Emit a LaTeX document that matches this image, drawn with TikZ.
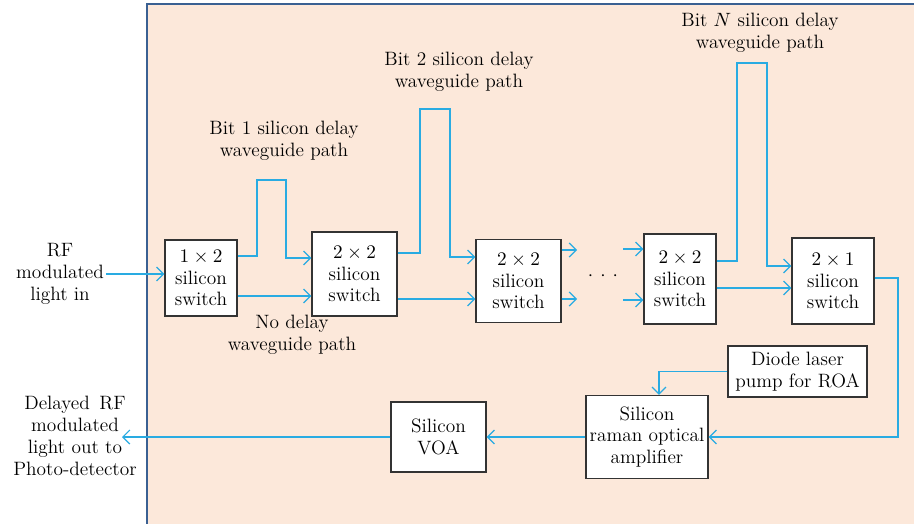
\documentclass[tikz,border=0pt]{standalone}
\usetikzlibrary{arrows.meta,calc}
\definecolor{peach}{RGB}{252,232,218}
\definecolor{framebl}{RGB}{58,96,146}
\definecolor{wg}{RGB}{41,171,226}
\begin{document}
\begin{tikzpicture}
		[x=0.02cm,y=-0.02cm,
		block/.style ={rectangle, draw=black!80, fill=white, line width=0.6pt, align=center, inner sep=1pt, font=\fontsize{11}{12.4}\selectfont},
		lbl/.style ={align=center, inner sep=0pt, font=\fontsize{11}{12.4}\selectfont},
		wire/.style ={wg, line width=0.7pt, -{Straight Barb[length=4pt,width=8pt]}},
		]
		\useasboundingbox (0,0) rectangle (914,524);
		\fill[peach] (147,4) rectangle (914,524);
		\draw[framebl, line width=0.8pt] (147,524) |- (914,4);

		% switches
		\draw (201,278) node[block, minimum width=1.44cm, minimum height=1.52cm] (S1) {$1\times 2$\\silicon\\switch};
		\draw (354.5,274) node[block, minimum width=1.7cm, minimum height=1.68cm] (S2) {$2\times 2$\\silicon\\switch};
		\draw (518.5,281) node[block, minimum width=1.7cm, minimum height=1.66cm] (S3) {$2\times 2$\\silicon\\switch};
		\draw (680,279) node[block, minimum width=1.44cm, minimum height=1.8cm] (S4) {$2\times 2$\\silicon\\switch};
		\draw (833,281) node[block, minimum width=1.64cm, minimum height=1.72cm] (S5) {$2\times 1$\\silicon\\switch};
		\draw (603,276) node[lbl] (dots) {$\cdot$\hspace{4pt}$\cdot$\hspace{4pt}$\cdot$};

		% output chain
		\draw (797.5,371.5) node[block, minimum width=2.78cm, minimum height=1.02cm] (DL) {Diode laser\\pump for ROA};
		\draw (647,437) node[block, minimum width=2.44cm, minimum height=1.66cm] (RA) {Silicon\\raman optical\\amplifier};
		\draw (438.5,437) node[block, minimum width=1.9cm, minimum height=1.4cm] (VOA) {Silicon\\VOA};

		% labels
		\draw (60,274) node[lbl] (IN) {RF\\modulated\\light in};
		\draw (75,436) node[lbl] (OUT) {Delayed\, RF\\modulated\\light out to\\Photo-detector};
		\draw (284,141) node[lbl] (T1) {Bit 1 silicon delay\\waveguide path};
		\draw (459,72) node[lbl] (T2) {Bit 2 silicon delay\\waveguide path};
		\draw (760,33) node[lbl] (TN) {Bit $N$ silicon delay\\waveguide path};
		\draw (292,335) node[lbl] (T0) {No delay\\waveguide path};

		% delay loops and free ends
		\coordinate (L1a) at (257,180);
		\coordinate (L1b) at (286,180);
		\coordinate (L2a) at (420,109);
		\coordinate (L2b) at (450,109);
		\coordinate (LNa) at (737,63);
		\coordinate (LNb) at (767,63);
		\coordinate (E1) at (577,250);
		\coordinate (E2) at (577,299);
		\coordinate (F1) at (623,249);
		\coordinate (F2) at (623,300);
		\coordinate (C1) at (898,437);
		\coordinate (ROut) at (122,437);

		\path[wire]
		([xshift=1pt]IN.east) edge (IN.east -| S1.west)
		($(S1.east)+(0,18)$) edge ($(S2.west)+(0,22)$)
		($(S2.east)+(0,25)$) edge ($(S3.west)+(0,18)$)
		($(S3.east)+(0,-31)$) edge (E1)
		($(S3.east)+(0,18)$) edge (E2)
		(F1) edge ($(S4.west)+(0,-30)$)
		(F2) edge ($(S4.west)+(0,21)$)
		($(S4.east)+(0,9)$) edge ($(S5.west)+(0,7)$)
		(RA.west) edge (VOA.east)
		(VOA.west) edge (ROut);

		\draw[wire] ($(S1.east)+(0,-22)$) -| (L1a) -- (L1b) |- ($(S2.west)+(0,-16)$);
		\draw[wire] ($(S2.east)+(0,-21)$) -| (L2a) -- (L2b) |- ($(S3.west)+(0,-24)$);
		\draw[wire] ($(S4.east)+(0,-18)$) -| (LNa) -- (LNb) |- ($(S5.west)+(0,-15)$);
		\draw[wire] ($(S5.east)+(0,-3)$) -| (C1) -- (RA.east);
		\draw[wire] (DL.west) -| ($(RA.north)+(12,0)$);

	\end{tikzpicture}
\end{document}
